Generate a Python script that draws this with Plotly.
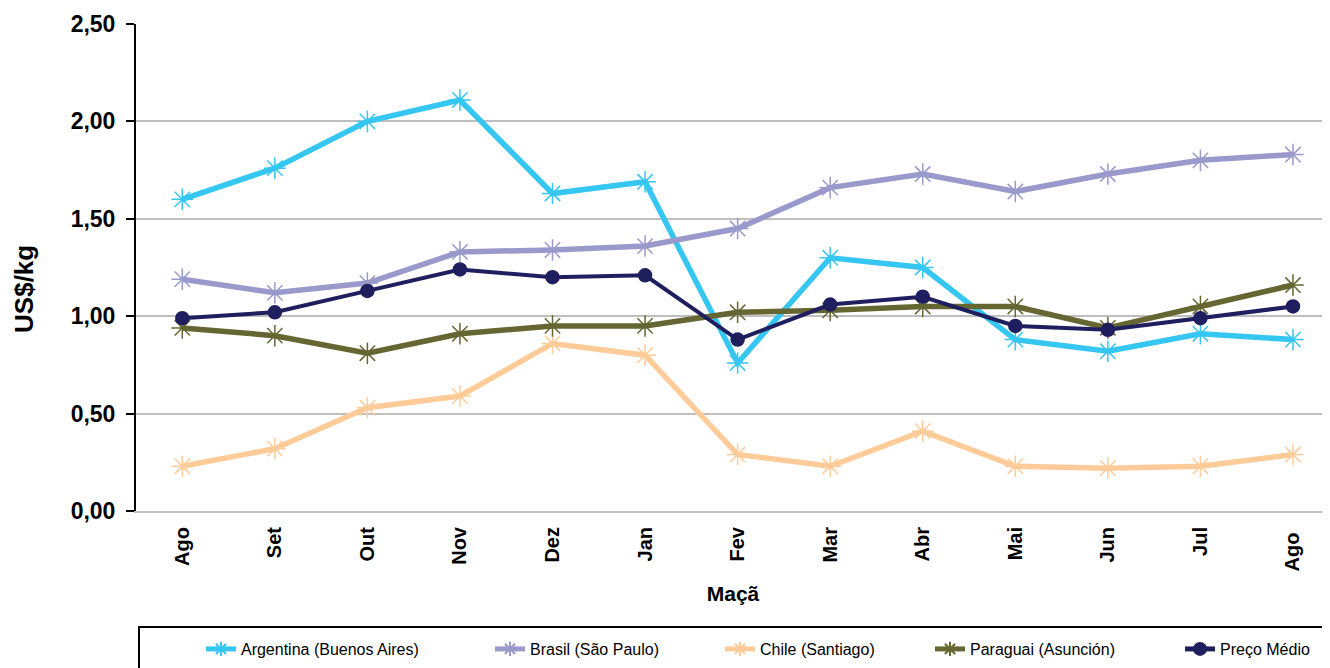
import plotly.graph_objects as go

meses = ['Ago', 'Set', 'Out', 'Nov', 'Dez', 'Jan', 'Fev', 'Mar', 'Abr', 'Mai', 'Jun', 'Jul', 'Ago ']

argentina = [1.60, 1.76, 2.00, 2.11, 1.63, 1.69, 0.76, 1.30, 1.25, 0.88, 0.82, 0.91, 0.88]
brasil    = [1.19, 1.12, 1.17, 1.33, 1.34, 1.36, 1.45, 1.66, 1.73, 1.64, 1.73, 1.80, 1.83]
chile     = [0.23, 0.32, 0.53, 0.59, 0.86, 0.80, 0.29, 0.23, 0.41, 0.23, 0.22, 0.23, 0.29]
paraguai  = [0.94, 0.90, 0.81, 0.91, 0.95, 0.95, 1.02, 1.03, 1.05, 1.05, 0.94, 1.05, 1.16]
preco     = [0.99, 1.02, 1.13, 1.24, 1.20, 1.21, 0.88, 1.06, 1.10, 0.95, 0.93, 0.99, 1.05]

series = [
    ('Argentina (Buenos Aires)', argentina, '#36C6F2', 5.5, 'asterisk-open', 18),
    ('Brasil (São Paulo)', brasil, '#9999CC', 5.5, 'asterisk-open', 18),
    ('Chile (Santiago)', chile, '#FFCC99', 5.5, 'asterisk-open', 18),
    ('Paraguai (Asunción)', paraguai, '#666633', 5.5, 'asterisk-open', 18),
    ('Preço Médio', preco, '#1F1F5F', 4, 'circle', 13),
]
# posição x (paper) de cada entrada da legenda
leg_x = [0.0544, 0.2965, 0.4891, 0.6650, 0.8744]

fig = go.Figure()
for i, (nome, vals, cor, lw, simb, ms) in enumerate(series):
    lg = 'legend' if i == 0 else 'legend' + str(i + 1)
    fig.add_trace(go.Scatter(
        x=meses, y=vals, name=nome, mode='lines+markers',
        line=dict(color=cor, width=lw),
        marker=dict(symbol=simb, size=ms, color=cor, line=dict(color=cor, width=1.5)),
        legend=lg))

legendas = {}
for i, xx in enumerate(leg_x):
    key = 'legend' if i == 0 else 'legend' + str(i + 1)
    legendas[key] = dict(x=xx, y=-0.2834, xanchor='left', yanchor='middle',
                         orientation='h', bgcolor='rgba(0,0,0,0)', borderwidth=0,
                         itemsizing='constant',
                         font=dict(family='Liberation Sans, Arial', size=16, color='black'))

# a página tem 8px de margem no body
fig.update_layout(
    width=1322, height=660,
    margin=dict(l=128, r=0, t=16, b=157),
    paper_bgcolor='white', plot_bgcolor='white',
    separators=',.',
    showlegend=True,
    font=dict(family='Liberation Sans, Arial', color='black'),
    **legendas,
)

fig.update_xaxes(
    range=[-0.5, 12.4], showgrid=False,
    showline=True, linecolor='#BFBFBF', linewidth=2,
    ticks='', tickangle=-90, ticklabelstandoff=6,
    tickfont=dict(size=20, family='Liberation Sans, Arial', weight='bold'),
    title=dict(text='<b>Maçã</b>', font=dict(size=21), standoff=16))

fig.update_yaxes(
    range=[0, 2.5], dtick=0.5, tickformat='.2f',
    showgrid=True, gridcolor='#BFBFBF', gridwidth=2,
    showline=True, linecolor='black', linewidth=2,
    ticks='outside', ticklen=8, tickcolor='black', tickwidth=2,
    ticklabelstandoff=6,
    tickfont=dict(size=23, family='Liberation Sans, Arial', weight='bold'),
    zeroline=False)

# título do eixo y
fig.add_annotation(text='<b>US$/kg</b>', xref='paper', yref='paper',
                   x=-0.0938, y=0.456, xanchor='center', yanchor='middle',
                   textangle=-90, showarrow=False,
                   font=dict(size=26, family='Liberation Sans, Arial', color='black'))

# caixa da legenda
fig.add_shape(type='rect', xref='paper', yref='paper',
              x0=0.0025, x1=1.02, y0=-0.238, y1=-0.40,
              line=dict(color='black', width=2), fillcolor='rgba(0,0,0,0)')

fig.write_html('out.html')
